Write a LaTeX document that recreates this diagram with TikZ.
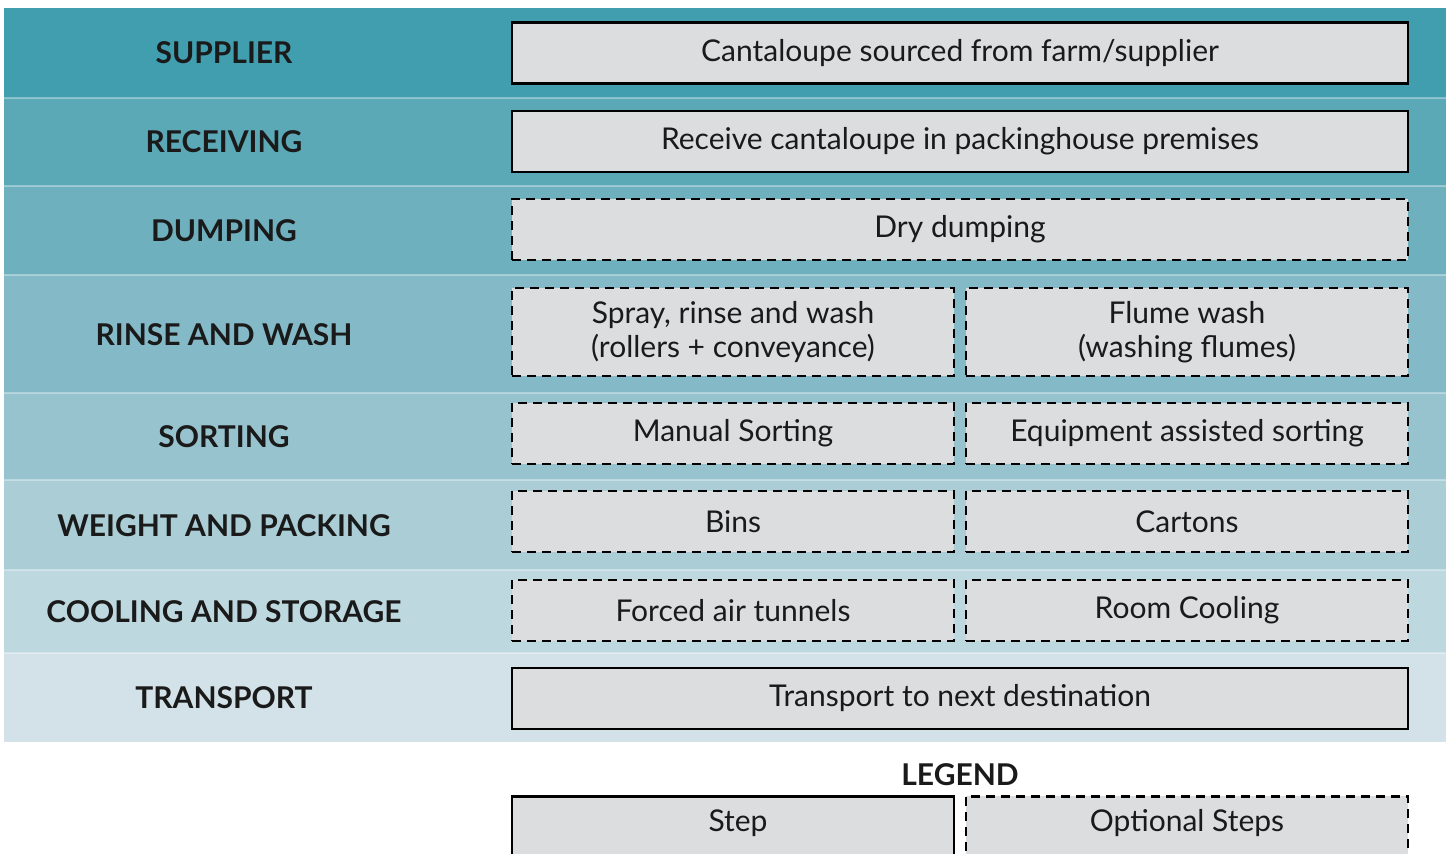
\documentclass[tikz,border=0pt]{standalone}
\usepackage{fontspec}
\setmainfont{Lato}
\definecolor{bandA}{HTML}{409EAF}
\definecolor{bandB}{HTML}{5BA8B6}
\definecolor{bandC}{HTML}{6FB0BF}
\definecolor{bandD}{HTML}{84BAC7}
\definecolor{bandE}{HTML}{97C3CF}
\definecolor{bandF}{HTML}{AACDD6}
\definecolor{bandG}{HTML}{BED8DF}
\definecolor{bandH}{HTML}{D3E2E8}
\definecolor{boxfill}{HTML}{DCDDDF}
\definecolor{ink}{HTML}{1A1A1A}
\begin{document}
\begin{tikzpicture}[x=0.5pt,y=-0.5pt,
  rowlabel/.style={font=\fontsize{15}{17}\selectfont\bfseries, text=ink, anchor=center},
  boxtext/.style={font=\fontsize{15}{17}\selectfont, text=ink, align=center},
  stepbox/.style={draw=black, line width=1.4pt, fill=boxfill, text=ink,
    font=\fontsize{15}{17}\selectfont, align=center, inner sep=0pt, minimum height=30.5pt},
  optbox/.style={stepbox, dash pattern=on 4.5pt off 3pt},
  fullw/.style={minimum width=448pt},
  halfw/.style={minimum width=221pt}]
\useasboundingbox (0,0) rectangle (1449,854);
\clip (0,0) rectangle (1449,854);
% bands
\fill[bandA] (4,8) rectangle (1446,98);
\fill[bandB] (4,98) rectangle (1446,186);
\fill[bandC] (4,186) rectangle (1446,275);
\fill[bandD] (4,275) rectangle (1446,393);
\fill[bandE] (4,393) rectangle (1446,480);
\fill[bandF] (4,480) rectangle (1446,570);
\fill[bandG] (4,570) rectangle (1446,653);
\fill[bandH] (4,653) rectangle (1446,742);
\foreach \yy in {98,186,275,393,480,570,653}
  \draw[white, opacity=0.35, line width=0.6pt] (4,\yy) -- (1446,\yy);
% row labels
\node[rowlabel] (lsup) at (224,53) {SUPPLIER};
\node[rowlabel] (lrec) at (224,142) {RECEIVING};
\node[rowlabel] (ldum) at (224,231) {DUMPING};
\node[rowlabel] (lrin) at (224,335) {RINSE AND WASH};
\node[rowlabel] (lsor) at (224,437) {SORTING};
\node[rowlabel] (lwei) at (224,526) {WEIGHT AND PACKING};
\node[rowlabel] (lcoo) at (224,612) {COOLING AND STORAGE};
\node[rowlabel] (ltra) at (224,698) {TRANSPORT};
% step boxes
\node[stepbox, fullw] (sup) at (960,53) {Cantaloupe sourced from farm/supplier};
\node[stepbox, fullw] (rec) at (960,141.5) {Receive cantaloupe in packinghouse premises};
\node[optbox, fullw] (dum) at (960,229.5) {Dry dumping};
\node[optbox, halfw, minimum height=44pt] (rin1) at (733,332) {Spray, rinse and wash\\(rollers + conveyance)};
\node[optbox, halfw, minimum height=44pt] (rin2) at (1187,332) {Flume wash\\(washing flumes)};
\node[optbox, halfw] (sor1) at (733,433.5) {Manual Sorting};
\node[optbox, halfw] (sor2) at (1187,433.5) {Equipment assisted sorting};
\node[optbox, halfw] (wei1) at (733,521.5) {Bins};
\node[optbox, halfw] (wei2) at (1187,521.5) {Cartons};
\node[optbox, halfw] (coo1) at (733,610.5) {Forced air tunnels};
\node[optbox, halfw] (coo2) at (1187,610.5) {Room Cooling};
\node[stepbox, fullw] (tra) at (960,698.5) {Transport to next destination};
% legend
\node[rowlabel] (leg) at (960,775) {LEGEND};
\node[stepbox, halfw, minimum height=60pt, anchor=north] (legstep) at (733,795) {};
\node[optbox, halfw, minimum height=60pt, anchor=north] (legopt) at (1187,795) {};
\node[boxtext] (legsteptxt) at (738,823) {Step};
\node[boxtext] (legopttxt) at (1187,823) {Optional Steps};
\end{tikzpicture}
\end{document}
